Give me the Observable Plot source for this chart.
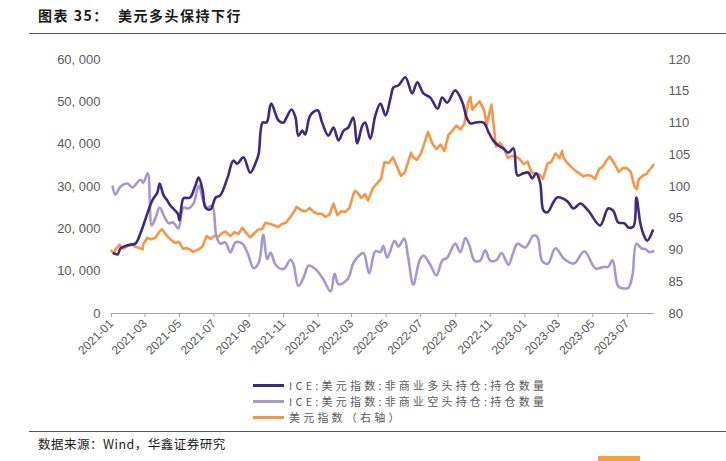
<!DOCTYPE html>
<html><head><meta charset="utf-8">
<script src="https://cdn.jsdelivr.net/npm/d3@7"></script>
<script src="https://cdn.jsdelivr.net/npm/@observablehq/plot@0.6"></script>
<style>
body{margin:0;width:726px;height:461px;position:relative;background:#fff;overflow:hidden;font-family:"Noto Sans CJK SC",sans-serif}
#title{position:absolute;left:38px;top:5px;font-size:14px;font-weight:bold;color:#1a1a1a;letter-spacing:1.5px;white-space:pre}
.rule{position:absolute;left:29px;right:0;height:0;border-top:1.5px solid #555}
#chart{position:absolute;left:0;top:40px}
#legend{position:absolute;left:253px;top:377px;font-size:11px;line-height:15px;color:#595959;letter-spacing:3.2px}
#legend div{display:flex;align-items:center;white-space:nowrap;height:16px}
#legend span.sw{display:inline-block;width:31px;height:3px;margin-right:5px}
#source{position:absolute;left:38px;top:434px;font-size:12.5px;color:#1a1a1a;letter-spacing:0.5px}
#deco{position:absolute;left:598px;top:456px;width:42px;height:5px;background:#f7a030}
</style></head>
<body>
<div id="title">图表 35：  美元多头保持下行</div>
<div class="rule" style="top:33px"></div>
<div id="chart"></div>
<div id="legend"></div>
<div class="rule" style="top:431px"></div>
<div id="source">数据来源：Wind，华鑫证券研究</div>
<div id="deco"></div>
<script>
// ICE 美元指数 非商业多头持仓（合约）
const longDates = ["2021-01-05","2021-01-12","2021-01-17","2021-01-29","2021-02-12","2021-02-21","2021-03-06","2021-03-14","2021-03-23","2021-03-27","2021-04-03","2021-04-09","2021-04-15","2021-04-28","2021-05-01","2021-05-08","2021-05-14","2021-05-20","2021-05-29","2021-06-04","2021-06-11","2021-06-16","2021-06-25","2021-07-04","2021-07-12","2021-07-25","2021-08-04","2021-08-11","2021-08-22","2021-09-03","2021-09-14","2021-09-18","2021-09-25","2021-10-02","2021-10-10","2021-10-23","2021-11-01","2021-11-05","2021-11-15","2021-11-22","2021-11-27","2021-12-04","2021-12-09","2021-12-18","2021-12-31","2022-01-08","2022-01-19","2022-01-28","2022-02-06","2022-02-15","2022-02-23","2022-03-04","2022-03-11","2022-03-20","2022-03-25","2022-04-03","2022-04-12","2022-04-21","2022-04-30","2022-05-09","2022-05-14","2022-05-23","2022-06-04","2022-06-16","2022-06-25","2022-07-06","2022-07-18","2022-07-31","2022-08-08","2022-08-17","2022-08-31","2022-09-13","2022-09-20","2022-09-27","2022-10-06","2022-10-20","2022-10-29","2022-11-06","2022-11-15","2022-11-24","2022-12-03","2022-12-12","2022-12-19","2022-12-29","2023-01-07","2023-01-14","2023-01-21","2023-01-28","2023-02-03","2023-02-10","2023-02-27","2023-03-17","2023-03-28","2023-04-09","2023-04-23","2023-05-14","2023-05-28","2023-06-06","2023-06-15","2023-06-26","2023-07-03","2023-07-12","2023-07-17","2023-07-24","2023-07-29","2023-08-05","2023-08-15"];
const longValues = [14200,14000,15400,16100,16500,18900,23900,26700,28600,30700,27900,26800,25500,23600,22000,27200,27300,27400,30200,32100,29000,25000,24600,27400,27900,32100,36100,35400,36900,33300,36100,37800,45100,45100,49600,45600,45100,46000,48200,46300,42000,43200,42300,46800,48000,45100,42000,43900,40900,43200,43900,46300,40200,44400,45100,41300,46800,49600,46800,51000,53400,53900,55800,52000,54600,52000,51000,48400,51000,49800,52700,49800,46300,44900,45100,45100,42800,40900,39700,39000,38000,39000,32600,33100,33300,31900,33100,30900,24300,23900,27400,26500,24800,26000,24300,20800,24800,24300,21500,21300,20300,20600,27400,21300,18900,17200,19600];

// ICE 美元指数 非商业空头持仓（合约）
const shortDates = ["2021-01-03","2021-01-08","2021-01-17","2021-01-29","2021-02-07","2021-02-21","2021-02-26","2021-03-06","2021-03-13","2021-03-20","2021-03-27","2021-04-05","2021-04-12","2021-04-20","2021-04-29","2021-05-08","2021-05-17","2021-05-26","2021-06-04","2021-06-12","2021-06-19","2021-06-28","2021-07-05","2021-07-12","2021-07-21","2021-07-30","2021-08-08","2021-08-20","2021-08-29","2021-09-09","2021-09-18","2021-09-26","2021-10-03","2021-10-09","2021-10-18","2021-11-01","2021-11-13","2021-11-18","2021-11-27","2021-12-06","2021-12-15","2021-12-27","2022-01-09","2022-01-23","2022-01-30","2022-02-06","2022-02-22","2022-03-04","2022-03-13","2022-03-22","2022-04-01","2022-04-12","2022-04-21","2022-04-26","2022-05-03","2022-05-16","2022-05-23","2022-06-02","2022-06-09","2022-06-18","2022-06-29","2022-07-06","2022-07-18","2022-07-29","2022-08-08","2022-08-17","2022-08-31","2022-09-09","2022-09-18","2022-09-25","2022-10-04","2022-10-14","2022-10-23","2022-11-01","2022-11-12","2022-11-21","2022-12-03","2022-12-12","2022-12-19","2023-01-02","2023-01-16","2023-01-23","2023-02-01","2023-02-11","2023-02-24","2023-03-12","2023-03-29","2023-04-16","2023-05-06","2023-05-20","2023-05-28","2023-06-05","2023-06-15","2023-06-26","2023-07-03","2023-07-10","2023-07-17","2023-07-26","2023-08-02","2023-08-09","2023-08-16"];
const shortValues = [30000,28100,30000,30700,29800,31600,30900,33100,20800,22700,25000,22700,21300,21500,20100,25000,24800,26000,30200,26700,25000,25500,18400,16500,16800,14400,16800,16500,14400,10700,12000,18600,12800,14400,11500,10500,12700,11800,6500,8400,11300,10500,8300,5200,9400,6900,8100,11900,13500,14300,9500,14700,14500,16000,13200,17200,15800,17700,13200,6800,12500,13700,11500,9000,12500,13200,16500,14500,17800,16100,12500,12500,14900,12500,12600,14300,11500,14600,16500,15600,18400,18100,12300,11800,15400,12800,11800,14700,10600,11000,11000,12600,6400,5900,6100,9000,16500,15400,15200,14500,14700];

// 美元指数（右轴）
const dxyDates = ["2021-01-01","2021-01-06","2021-01-08","2021-01-15","2021-01-22","2021-01-29","2021-02-05","2021-02-12","2021-02-19","2021-02-25","2021-02-26","2021-03-05","2021-03-12","2021-03-19","2021-03-26","2021-03-31","2021-04-09","2021-04-16","2021-04-23","2021-04-30","2021-05-07","2021-05-14","2021-05-21","2021-05-25","2021-06-04","2021-06-11","2021-06-18","2021-06-25","2021-07-02","2021-07-09","2021-07-16","2021-07-21","2021-07-30","2021-08-06","2021-08-13","2021-08-20","2021-08-27","2021-09-03","2021-09-10","2021-09-17","2021-09-24","2021-09-30","2021-10-08","2021-10-15","2021-10-22","2021-10-29","2021-11-05","2021-11-12","2021-11-19","2021-11-24","2021-12-03","2021-12-10","2021-12-17","2021-12-24","2021-12-31","2022-01-07","2022-01-14","2022-01-21","2022-01-28","2022-02-04","2022-02-11","2022-02-18","2022-02-25","2022-03-04","2022-03-07","2022-03-11","2022-03-18","2022-03-25","2022-03-30","2022-04-08","2022-04-15","2022-04-22","2022-04-28","2022-05-06","2022-05-13","2022-05-20","2022-05-27","2022-06-03","2022-06-10","2022-06-14","2022-06-17","2022-06-24","2022-07-01","2022-07-08","2022-07-14","2022-07-22","2022-07-29","2022-08-05","2022-08-12","2022-08-19","2022-08-26","2022-09-02","2022-09-09","2022-09-16","2022-09-23","2022-09-27","2022-09-30","2022-10-07","2022-10-13","2022-10-21","2022-10-26","2022-10-28","2022-11-03","2022-11-11","2022-11-18","2022-11-25","2022-12-02","2022-12-09","2022-12-16","2022-12-23","2022-12-30","2023-01-06","2023-01-13","2023-01-20","2023-01-27","2023-02-02","2023-02-10","2023-02-17","2023-02-24","2023-03-03","2023-03-08","2023-03-10","2023-03-17","2023-03-24","2023-03-31","2023-04-07","2023-04-14","2023-04-21","2023-04-28","2023-05-05","2023-05-12","2023-05-19","2023-05-26","2023-05-31","2023-06-09","2023-06-16","2023-06-23","2023-06-30","2023-07-07","2023-07-14","2023-07-18","2023-07-21","2023-07-28","2023-08-04","2023-08-11","2023-08-16"];
const dxyValues = [89.9,89.4,90.1,90.8,90.2,90.6,91.0,90.5,90.3,90.1,90.9,91.9,91.7,91.9,92.8,93.3,92.2,91.6,91.1,91.3,90.2,90.3,90.0,89.7,90.1,90.6,92.2,91.8,92.2,92.1,92.7,92.9,92.2,92.8,92.5,93.5,92.7,92.0,92.6,93.2,93.3,94.3,94.1,93.9,93.6,94.1,94.3,95.1,96.0,96.8,96.2,96.1,96.6,96.0,95.7,95.7,95.2,95.6,97.3,95.5,96.1,96.0,96.6,98.7,99.3,99.1,98.2,98.8,97.8,99.8,100.5,101.2,103.8,103.7,104.6,103.2,101.7,102.2,104.2,105.3,104.7,104.2,105.1,106.9,108.6,106.7,105.9,106.6,105.6,108.1,108.8,109.6,109.0,109.8,113.2,114.1,112.1,112.8,113.4,112.0,109.7,110.7,112.9,106.3,106.9,106.0,104.5,104.8,104.7,104.3,103.5,103.9,102.2,102.0,101.9,101.2,103.6,103.9,105.2,104.5,105.6,104.6,103.7,103.1,102.5,102.1,101.6,101.8,101.7,101.2,102.7,103.2,104.2,104.7,103.5,102.3,102.9,102.9,102.3,99.9,99.6,101.1,101.7,102.0,102.8,103.4];

const xTickLabels = ["2021-01","2021-03","2021-05","2021-07","2021-09","2021-11","2022-01","2022-03","2022-05","2022-07","2022-09","2022-11","2023-01","2023-03","2023-05","2023-07"];
const leftTicks = [0,10000,20000,30000,40000,50000,60000];
const rightTicks = [80,85,90,95,100,105,110,115,120];
const seriesNames = ["ICE:美元指数:非商业多头持仓:持仓数量","ICE:美元指数:非商业空头持仓:持仓数量","美元指数（右轴）"];
const seriesColors = ["#3f2a80","#a698cf","#f79646"];

const parse = d3.utcParse("%Y-%m-%d");
const longData = longDates.map((d,i)=>({date:parse(d), value:longValues[i]}));
const shortData = shortDates.map((d,i)=>({date:parse(d), value:shortValues[i]}));
const dxyData = dxyDates.map((d,i)=>({date:parse(d), value:dxyValues[i]}));
// right axis mapped onto left scale: 80..120 -> 0..60000
const toLeft = v => (v - 80) * 1500;
const fromLeft = v => v / 1500 + 80;

const fmtLeft = d => d === 0 ? "0" : d3.format(",")(d).replace(",", ", ");

const chart = Plot.plot({
  width: 726,
  height: 330,
  marginLeft: 111,
  marginRight: 72,
  marginTop: 19,
  marginBottom: 57,
  style: {fontFamily: "'Liberation Sans', Arial, sans-serif", fontSize: "12.5px", color: "#595959", background: "transparent"},
  x: {type: "utc", domain: [parse("2021-01-01"), parse("2023-08-18")]},
  y: {domain: [0, 60000]},
  marks: [
    Plot.axisY({ticks: leftTicks, tickFormat: fmtLeft, tickSize: 0, tickPadding: 11, label: null, fontSize: 13}),
    Plot.axisY({anchor: "right", ticks: rightTicks.map(toLeft), tickFormat: d => String(Math.round(fromLeft(d))), tickSize: 0, tickPadding: 14, label: null, fontSize: 13}),
    Plot.axisX({ticks: xTickLabels.map(s => parse(s + "-01")), tickFormat: d3.utcFormat("%Y-%m"), tickRotate: -45, tickSize: 4, tickPadding: 4, label: null, stroke: "#a6a6a6", fontSize: 12}),
    Plot.ruleY([0], {stroke: "#a6a6a6", strokeWidth: 1}),
    Plot.line(dxyData, {x: "date", y: d => toLeft(d.value), stroke: seriesColors[2], strokeWidth: 2.6}),
    Plot.line(shortData, {x: "date", y: "value", stroke: seriesColors[1], strokeWidth: 2.6, curve: "catmull-rom"}),
    Plot.line(longData, {x: "date", y: "value", stroke: seriesColors[0], strokeWidth: 2.6, curve: "catmull-rom"})
  ]
});
document.getElementById("chart").appendChild(chart);

const legend = document.getElementById("legend");
seriesNames.forEach((n,i)=>{
  const row = document.createElement("div");
  const sw = document.createElement("span"); sw.className = "sw"; sw.style.background = seriesColors[i];
  row.appendChild(sw);
  row.appendChild(document.createTextNode(n));
  legend.appendChild(row);
});
</script>
</body></html>
